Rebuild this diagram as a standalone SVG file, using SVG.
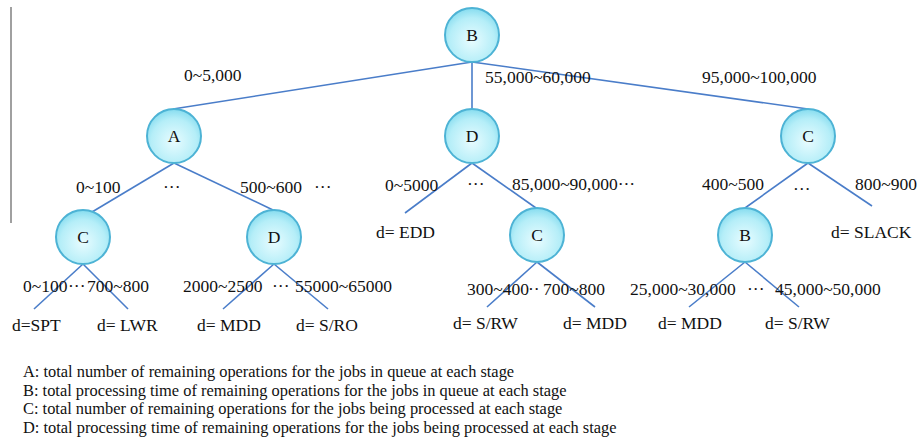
<svg xmlns="http://www.w3.org/2000/svg" width="919" height="441" viewBox="0 0 919 441">
<defs>
<radialGradient id="nodeFill" cx="50%" cy="60%" r="60%">
<stop offset="0%" stop-color="#e8fcff"/>
<stop offset="70%" stop-color="#b5eef8"/>
<stop offset="100%" stop-color="#86dcef"/>
</radialGradient>
</defs>
<style>
.node circle{fill:url(#nodeFill);stroke:#4db3d5;stroke-width:2}
.node text{font-family:"Liberation Serif","Times New Roman",serif;font-size:17.5px;fill:#111;text-anchor:middle}
.edge{stroke:#4a7dc9;stroke-width:1.6;fill:none}
.lbl{font-family:"Liberation Serif","Times New Roman",serif;font-size:17.5px;fill:#111}
.leg{font-family:"Liberation Serif","Times New Roman",serif;font-size:16.4px;fill:#111}
</style>
<rect width="919" height="441" fill="#fff"/>
<line x1="11" y1="7" x2="11" y2="223" stroke="#808080" stroke-width="1.5"/>
<g id="connectors">
<line class="edge" x1="472" y1="62" x2="173" y2="109"/>
<line class="edge" x1="472" y1="62" x2="472" y2="109"/>
<line class="edge" x1="472" y1="62" x2="808" y2="109"/>
<line class="edge" x1="174" y1="163" x2="92" y2="212"/>
<line class="edge" x1="174" y1="163" x2="273" y2="210"/>
<line class="edge" x1="472" y1="163" x2="405" y2="213"/>
<line class="edge" x1="472" y1="163" x2="536" y2="208"/>
<line class="edge" x1="808" y1="163" x2="745" y2="208"/>
<line class="edge" x1="808" y1="163" x2="872" y2="206"/>
<line class="edge" x1="83" y1="264" x2="34" y2="309"/>
<line class="edge" x1="83" y1="264" x2="128" y2="309"/>
<line class="edge" x1="274" y1="264" x2="223" y2="309"/>
<line class="edge" x1="274" y1="264" x2="328" y2="309"/>
<line class="edge" x1="537" y1="262" x2="487" y2="307"/>
<line class="edge" x1="537" y1="262" x2="595" y2="307"/>
<line class="edge" x1="745" y1="262" x2="689" y2="307"/>
<line class="edge" x1="745" y1="262" x2="799" y2="307"/>
</g>
<g id="n-root-B" class="node"><circle cx="472" cy="35" r="27"/><text x="472" y="41">B</text></g>
<g id="n-A" class="node"><circle cx="174" cy="136" r="27"/><text x="174" y="142">A</text></g>
<g id="n-D1" class="node"><circle cx="472" cy="136" r="27"/><text x="472" y="142">D</text></g>
<g id="n-C1" class="node"><circle cx="808" cy="136" r="27"/><text x="808" y="142">C</text></g>
<g id="n-C2" class="node"><circle cx="83" cy="237" r="27"/><text x="83" y="243">C</text></g>
<g id="n-D2" class="node"><circle cx="274" cy="237" r="27"/><text x="274" y="243">D</text></g>
<g id="n-C3" class="node"><circle cx="537" cy="235" r="27"/><text x="537" y="241">C</text></g>
<g id="n-B2" class="node"><circle cx="745" cy="235" r="27"/><text x="745" y="241">B</text></g>
<g id="labels">
<text class="lbl" x="184" y="81">0~5,000</text>
<text class="lbl" x="485" y="83">55,000~60,000</text>
<text class="lbl" x="702" y="83">95,000~100,000</text>
<text class="lbl" x="76" y="193">0~100</text>
<text class="lbl" x="163" y="193">···</text>
<text class="lbl" x="240" y="193">500~600</text>
<text class="lbl" x="314" y="193">···</text>
<text class="lbl" x="385" y="191">0~5000</text>
<text class="lbl" x="467" y="190">···</text>
<text class="lbl" x="512" y="190">85,000~90,000···</text>
<text class="lbl" x="702" y="190">400~500</text>
<text class="lbl" x="793" y="190">…</text>
<text class="lbl" x="855" y="190">800~900</text>
<text class="lbl" x="376" y="238">d= EDD</text>
<text class="lbl" x="831" y="238">d= SLACK</text>
<text class="lbl" x="23" y="292">0~100</text>
<text class="lbl" x="68" y="292">···</text>
<text class="lbl" x="87" y="292">700~800</text>
<text class="lbl" x="183" y="292">2000~2500</text>
<text class="lbl" x="272" y="292">···</text>
<text class="lbl" x="295" y="292">55000~65000</text>
<text class="lbl" x="467" y="295">300~400</text>
<text class="lbl" x="528" y="295">··</text>
<text class="lbl" x="543" y="295">700~800</text>
<text class="lbl" x="630" y="295">25,000~30,000</text>
<text class="lbl" x="747" y="295">···</text>
<text class="lbl" x="775" y="295">45,000~50,000</text>
<text class="lbl" x="12" y="331">d=SPT</text>
<text class="lbl" x="97" y="331">d= LWR</text>
<text class="lbl" x="197" y="331">d= MDD</text>
<text class="lbl" x="296" y="331">d= S/RO</text>
<text class="lbl" x="453" y="329">d= S/RW</text>
<text class="lbl" x="563" y="329">d= MDD</text>
<text class="lbl" x="658" y="329">d= MDD</text>
<text class="lbl" x="765" y="329">d= S/RW</text>
</g>
<g id="legend">
<text class="leg" x="23" y="377">A: total number of remaining operations for the jobs in queue at each stage</text>
<text class="leg" x="23" y="395.5">B: total processing time of remaining operations for the jobs in queue at each stage</text>
<text class="leg" x="23" y="414">C: total number of remaining operations for the jobs being processed at each stage</text>
<text class="leg" x="23" y="432.5">D: total processing time of remaining operations for the jobs being processed at each stage</text>
</g>
</svg>
